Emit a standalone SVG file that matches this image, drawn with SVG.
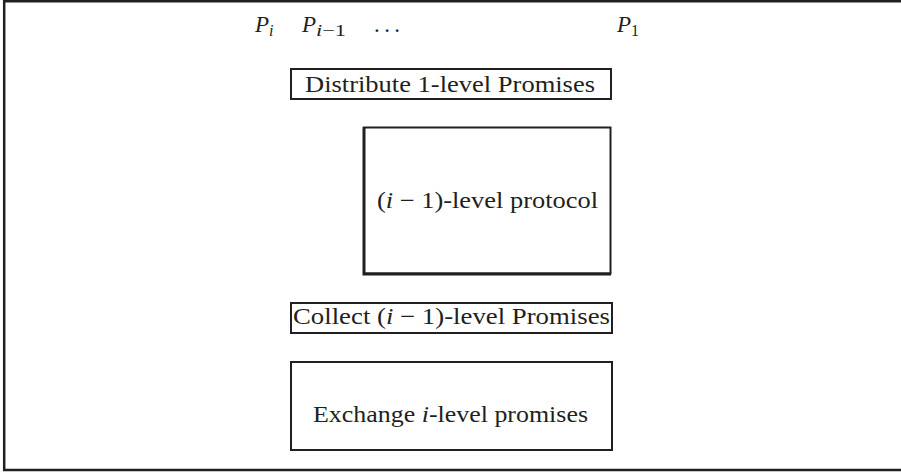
<svg xmlns="http://www.w3.org/2000/svg" width="901" height="473" viewBox="0 0 901 473">
  <style>
    .box { fill: #ffffff; stroke: #231f20; stroke-width: 2; }
    .frame { fill: none; stroke: #231f20; stroke-width: 2.5; }
    .lbl { font-family: "Liberation Serif", "DejaVu Serif", serif; font-size: 23px; fill: #231f20; }
    .sub { font-size: 16px; }
    .it { font-style: italic; }
  </style>
  <rect width="901" height="473" fill="#ffffff"/>
  <!-- open frame: top, left and bottom edges -->
  <path class="frame" d="M901 1.2 H4.2 V470 H901"/>

  <!-- process labels along the top -->
  <g id="processes" class="lbl">
    <text x="255" y="32"><tspan class="it">P</tspan><tspan class="sub it" dy="4">i</tspan></text>
    <text x="302" y="32"><tspan class="it">P</tspan><tspan class="sub" dy="4" textLength="30" lengthAdjust="spacingAndGlyphs"><tspan class="it">i</tspan>−1</tspan></text>
    <text x="374" y="32" textLength="26" lengthAdjust="spacing">. . .</text>
    <text x="617" y="32"><tspan class="it">P</tspan><tspan class="sub" dy="4">1</tspan></text>
  </g>

  <g id="distribute">
    <rect class="box" x="291" y="69" width="320" height="30"/>
    <text class="lbl" x="305" y="92" textLength="290" lengthAdjust="spacingAndGlyphs">Distribute 1-level Promises</text>
  </g>

  <g id="protocol">
    <rect class="box" x="364" y="127.5" width="246.5" height="146"/>
    <path d="M364 127 V274 H611" fill="none" stroke="#231f20" stroke-width="3"/>
    <text class="lbl" x="377" y="208" textLength="221" lengthAdjust="spacingAndGlyphs">(<tspan class="it">i</tspan> − 1)-level protocol</text>
  </g>

  <g id="collect">
    <rect class="box" x="291" y="303" width="321" height="30"/>
    <text class="lbl" x="293" y="324" textLength="317" lengthAdjust="spacingAndGlyphs">Collect (<tspan class="it">i</tspan> − 1)-level Promises</text>
  </g>

  <g id="exchange">
    <rect class="box" x="291" y="362" width="321" height="88"/>
    <text class="lbl" x="313" y="422" textLength="275" lengthAdjust="spacingAndGlyphs">Exchange <tspan class="it">i</tspan>-level promises</text>
  </g>

  <g id="connectors"/>
</svg>
